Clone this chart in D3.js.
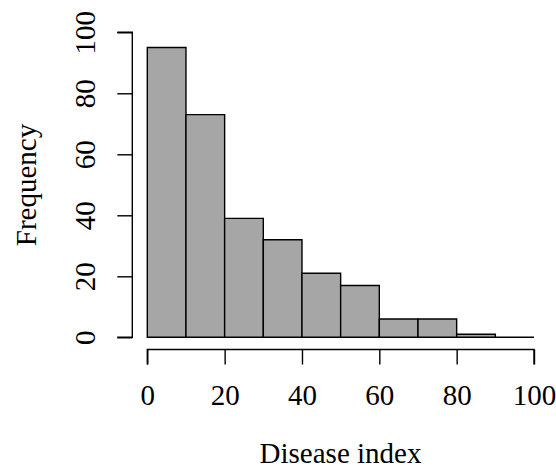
<!DOCTYPE html>
<html>
<head>
<meta charset="utf-8">
<script src="https://cdn.jsdelivr.net/npm/d3@7"></script>
<style>
  body { margin: 0; background: #fff; }
  text { font-family: "Liberation Serif", "DejaVu Serif", serif; fill: #000; }
</style>
</head>
<body>
<svg id="hist" width="556" height="470"></svg>
<script>
// histogram bins (Disease index) and counts
bin_edges = [0, 10, 20, 30, 40, 50, 60, 70, 80, 90, 100];
counts = [95, 73, 39, 32, 21, 17, 6, 6, 1, 0];
x_ticks = [0, 20, 40, 60, 80, 100];
y_ticks = [0, 20, 40, 60, 80, 100];

var svg = d3.select("#hist");
var fs = 29;

// plot region
var x = d3.scaleLinear().domain([0, 100]).range([147.3, 534]);
var y = d3.scaleLinear().domain([0, 100]).range([337.3, 32.3]);

var bins = counts.map(function(c, i){
    return {x0: bin_edges[i], x1: bin_edges[i + 1], n: c};
});

// drawn as closed paths so empty bins still show as a line (like R)
svg.append("g").selectAll("path")
    .data(bins)
    .enter().append("path")
    .attr("d", function(d){
        return "M" + x(d.x0) + "," + y(0) + "H" + x(d.x1) + "V" + y(d.n) + "H" + x(d.x0) + "Z";
    })
    .attr("fill", "#a6a6a6")
    .attr("stroke", "#000")
    .attr("stroke-width", 1.4);

// X-axis (R style, offset below)
var x_axis = d3.axisBottom(x).tickValues(x_ticks).tickSize(15);
var gx = svg.append("g")
    .attr("transform", "translate(0,349.5)")
    .call(x_axis);

// Y-axis
var y_axis = d3.axisLeft(y).tickValues(y_ticks).tickSize(15);
var gy = svg.append("g")
    .attr("transform", "translate(132.3,0)")
    .call(y_axis);

[gx, gy].forEach(function(g){
    g.select(".domain").attr("stroke", "#000").attr("stroke-width", 1.4);
    g.selectAll(".tick line").attr("stroke", "#000").attr("stroke-width", 1.4);
    g.selectAll(".tick text").style("font-family", "Liberation Serif, serif").attr("font-size", fs).attr("fill", "#000");
});
// R domain spans only the tick range
gx.select(".domain").attr("d", "M" + x(0) + ",15V0H" + x(100) + "V15");
gy.select(".domain").attr("d", "M-15," + y(0) + "H0V" + y(100) + "H-15");

gx.selectAll(".tick text").attr("dy", null).attr("y", 55.5);

// rotated y labels
gy.selectAll(".tick text")
    .attr("x", null).attr("dy", null)
    .attr("text-anchor", "middle")
    .attr("transform", "translate(-37,0) rotate(-90)")
    .attr("y", 0);

svg.append("text")
    .attr("x", 340.5).attr("y", 463)
    .attr("text-anchor", "middle")
    .attr("font-size", fs)
    .text("Disease index");

svg.append("text")
    .attr("transform", "translate(36,185) rotate(-90)")
    .attr("text-anchor", "middle")
    .attr("font-size", fs)
    .text("Frequency");
</script>
</body>
</html>
